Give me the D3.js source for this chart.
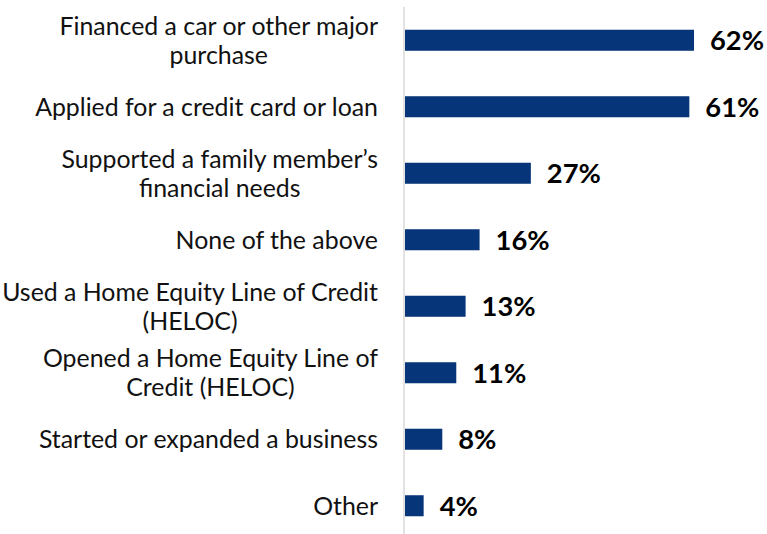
<!DOCTYPE html>
<html>
<head>
<meta charset="utf-8">
<script src="https://cdn.jsdelivr.net/npm/d3@7"></script>
<style>
  html, body { margin: 0; padding: 0; background: #fff; }
  svg { display: block; }
</style>
</head>
<body>
<svg id="chart" width="767" height="534"></svg>
<script>
// Share of respondents by financial activity
const categories = [
  "Financed a car or other major\npurchase",
  "Applied for a credit card or loan",
  "Supported a family member\u2019s\nfinancial needs",
  "None of the above",
  "Used a Home Equity Line of Credit\n(HELOC)",
  "Opened a Home Equity Line of\nCredit (HELOC)",
  "Started or expanded a business",
  "Other"
];
const values = [62, 61, 27, 16, 13, 11, 8, 4];
const valueLabels = ["62%", "61%", "27%", "16%", "13%", "11%", "8%", "4%"];

const W = 767, H = 534;
const axisX = 404;
const labelRight = 378;
const barColor = "#06357a";
const labelFont = "Lato, 'Open Sans', sans-serif";

const svg = d3.select("#chart");

const y = d3.scaleBand()
  .domain(categories)
  .range([7, 539])
  .paddingInner(0.684)
  .paddingOuter(0.342);

const x = d3.scaleLinear()
  .domain([0, d3.max(values)])
  .range([axisX + 1, 694]);

// Fit the category font so the widest single line spans the label column
const probe = svg.append("text")
  .attr("font-family", labelFont)
  .attr("font-size", 20)
  .text("Applied for a credit card or loan");
const labelSize = 20 * 343 / probe.node().getComputedTextLength();
probe.remove();

const probe2 = svg.append("text")
  .attr("font-family", labelFont)
  .attr("font-weight", 700)
  .attr("font-size", 20)
  .text("62%");
const valueSize = 20 * 54 / probe2.node().getComputedTextLength();
probe2.remove();

const lineH = 29;

// bars
svg.append("g")
  .selectAll("rect")
  .data(values)
  .join("rect")
  .attr("x", x(0))
  .attr("y", (d, i) => y(categories[i]))
  .attr("width", d => x(d) - x(0))
  .attr("height", y.bandwidth())
  .attr("fill", barColor);

// vertical category axis line
svg.append("line")
  .attr("x1", axisX).attr("x2", axisX)
  .attr("y1", 7).attr("y2", H)
  .attr("stroke", "#d9d9d9")
  .attr("stroke-width", 1.5);

// category labels: lines centred within a right-aligned block
const labelG = svg.append("g")
  .attr("font-family", labelFont)
  .attr("font-size", labelSize)
  .attr("fill", "#111");

categories.forEach((c, i) => {
  const lines = c.split("\n");
  const cy = y(c) + y.bandwidth() / 2;
  const t = labelG.append("text").attr("text-anchor", "middle");
  const spans = lines.map((ln, k) =>
    t.append("tspan")
      .attr("y", cy + (k - (lines.length - 1) / 2) * lineH)
      .attr("dy", "0.36em")
      .text(ln)
  );
  const blockW = d3.max(spans, s => s.node().getComputedTextLength());
  spans.forEach(s => s.attr("x", labelRight - blockW / 2));
});

// value labels
svg.append("g")
  .attr("font-family", labelFont)
  .attr("font-weight", 700)
  .attr("font-size", valueSize)
  .attr("fill", "#000")
  .selectAll("text")
  .data(values)
  .join("text")
  .attr("x", d => x(d) + 16)
  .attr("y", (d, i) => y(categories[i]) + y.bandwidth() / 2)
  .attr("dy", "0.36em")
  .text((d, i) => valueLabels[i]);
</script>
</body>
</html>
